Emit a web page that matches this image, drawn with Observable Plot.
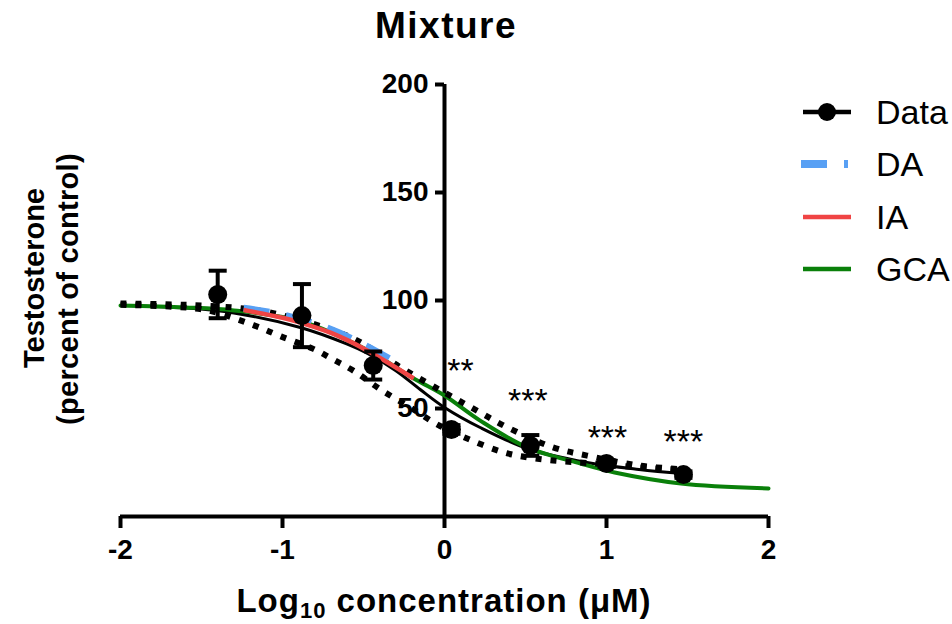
<!DOCTYPE html>
<html>
<head>
<meta charset="utf-8">
<script src="https://cdn.jsdelivr.net/npm/d3@7"></script>
<script src="https://cdn.jsdelivr.net/npm/@observablehq/plot@0.6"></script>
<style>
  html, body { margin: 0; padding: 0; background: #fff; }
  #chart svg { display: block; }
</style>
</head>
<body>
<div id="chart"></div>
<script>
// ---- Axis ticks ----
const xTicks = [-2, -1, 0, 1, 2];
const yTicks = [50, 100, 150, 200];

// ---- Observed data (mean ± error) ----
const dataX = [-1.4, -0.88, -0.44, 0.043, 0.53, 1.0, 1.475];
const dataY = [102.8, 93, 69.9, 40.3, 32.9, 24.5, 19.4];
const dataErr = [11, 14.6, 6.5, 2, 4.8, 1.5, 1.5];

// ---- Fitted curve of the data (black solid) ----
const fitX = [-2, -1.6, -1.3, -0.89, -0.6, -0.475, -0.3, -0.15, 0, 0.22, 0.51, 0.88, 1.2, 1.475];
const fitY = [97.7, 96.5, 94.2, 87.5, 79.8, 75.5, 67.5, 58.8, 50.5, 41.2, 31.5, 25, 21.8, 19.9];

// ---- Confidence band, upper (dotted) ----
const upperX = [-2, -1.6, -1.24, -1.05, -0.72, -0.54, -0.27, 0, 0.2, 0.39, 0.67, 0.88, 1.2, 1.48];
const upperY = [98.6, 98, 96.3, 94, 87, 81.5, 69, 57.4, 49, 41.2, 32, 28.2, 23.6, 21.8];

// ---- Confidence band, lower (dotted) ----
const lowerX = [-2, -1.7, -1.46, -1.18, -1.01, -0.81, -0.685, -0.56, -0.395, -0.2, -0.04, 0.14, 0.36, 0.51, 0.67, 0.88, 1.21, 1.48];
const lowerY = [98, 97.2, 95.4, 88.6, 83.4, 77.6, 72.6, 67.4, 58.8, 50, 42.4, 36.1, 29.8, 27.4, 25.9, 24.8, 22.7, 21.5];

// ---- Model predictions ----
const gcaX = [-2, -1.6, -1.3, -0.89, -0.475, -0.19, 0, 0.22, 0.51, 0.84, 1.05, 1.46, 2];
const gcaY = [97.7, 96.8, 95.4, 90.5, 77, 63.9, 56, 44.4, 32, 24.5, 20.4, 15.3, 13];

const iaX = [-1.24, -1.0, -0.89, -0.7, -0.5, -0.19];
const iaY = [95.6, 92, 89.8, 85, 77.8, 63.9];

const daX = [-1.24, -1.0, -0.7, -0.5, -0.33];
const daY = [96.4, 93.4, 86.6, 79.6, 72.6];

// ---- Significance annotations ----
const starX = [0.099, 0.515, 1.006, 1.475];
const starY = [67.5, 53.2, 36.1, 34.3];
const starText = ["**", "***", "***", "***"];

// ---- Legend ----
const legendLabels = ["Data", "DA", "IA", "GCA"];

// ---- Build tables ----
const rows = (xs, ys) => xs.map((x, i) => ({x, y: ys[i]}));
const dataRows = dataX.map((x, i) => ({x, y: dataY[i], lo: dataY[i] - dataErr[i], hi: dataY[i] + dataErr[i]}));
const capRows = dataRows.flatMap(d => [{x: d.x, y: d.lo}, {x: d.x, y: d.hi}]);
const starRows = starX.map((x, i) => ({x, y: starY[i], t: starText[i]}));

const capSymbol = {
  draw(ctx, size) {
    const w = Math.sqrt(size / Math.PI);
    ctx.moveTo(-w, 0);
    ctx.lineTo(w, 0);
  }
};

const FONT = "'Liberation Sans', Arial, Helvetica, sans-serif";
const dotted = {stroke: "black", strokeWidth: 6, strokeDasharray: "6,9", strokeLinecap: "butt", curve: "catmull-rom"};

const plot = Plot.plot({
  width: 952,
  height: 624,
  marginLeft: 120,
  marginRight: 184,
  marginTop: 84,
  marginBottom: 108,
  style: {fontFamily: FONT, background: "#fff", overflow: "visible"},
  x: {domain: [-2, 2]},
  y: {domain: [0, 200]},
  marks: [
    Plot.ruleY([0], {x1: -2, x2: 2, stroke: "black", strokeWidth: 4}),
    Plot.ruleX([0], {y1: 0, y2: 200, stroke: "black", strokeWidth: 4}),
    Plot.axisX({ticks: xTicks, tickFormat: d => String(d), tickSize: 12, tickPadding: 11,
      strokeWidth: 4, fontSize: 28, fontWeight: "bold", label: null}),
    Plot.axisY({x: 0, ticks: yTicks, tickFormat: d => String(d), tickSize: 9, tickPadding: 7,
      strokeWidth: 4, fontSize: 28, fontWeight: "bold", label: null}),
    Plot.line(rows(fitX, fitY), {x: "x", y: "y", stroke: "black", strokeWidth: 3, curve: "catmull-rom"}),
    Plot.line(rows(gcaX, gcaY), {x: "x", y: "y", stroke: "#0a800a", strokeWidth: 4, curve: "catmull-rom"}),
    Plot.line(rows(upperX, upperY), {x: "x", y: "y", ...dotted}),
    Plot.line(rows(lowerX, lowerY), {x: "x", y: "y", ...dotted}),
    Plot.line(rows(daX, daY), {x: "x", y: "y", stroke: "#58a0f4", strokeWidth: 7, strokeDasharray: "26,17", strokeLinecap: "butt", curve: "catmull-rom"}),
    Plot.line(rows(iaX, iaY), {x: "x", y: "y", stroke: "#f04444", strokeWidth: 4.5, strokeLinecap: "butt", curve: "catmull-rom"}),
    Plot.ruleX(dataRows, {x: "x", y1: "lo", y2: "hi", stroke: "black", strokeWidth: 4}),
    Plot.dot(capRows, {x: "x", y: "y", symbol: capSymbol, r: 9, stroke: "black", strokeWidth: 4, fill: "none"}),
    Plot.dot(dataRows, {x: "x", y: "y", r: 9.5, fill: "black", stroke: "none"}),
    Plot.text(starRows, {x: "x", y: "y", text: "t", fontSize: 34, fill: "black", lineAnchor: "middle"})
  ]
});

document.getElementById("chart").appendChild(plot);

// ---- Titles, axis labels and legend ----
const svg = d3.select(plot);

svg.append("text")
  .attr("x", 446).attr("y", 38)
  .attr("text-anchor", "middle")
  .attr("font-family", FONT).attr("font-weight", "bold")
  .attr("font-size", 37).attr("letter-spacing", 1.5)
  .attr("fill", "black")
  .text("Mixture");

const xl = svg.append("text")
  .attr("x", 444).attr("y", 612)
  .attr("text-anchor", "middle")
  .attr("font-family", FONT).attr("font-weight", "bold")
  .attr("font-size", 33).attr("letter-spacing", 1)
  .attr("fill", "black");
xl.append("tspan").text("Log");
xl.append("tspan").attr("font-size", 22).attr("dy", 6).text("10");
xl.append("tspan").attr("dy", -6).text(" concentration (\u03bcM)");

svg.append("text")
  .attr("transform", "translate(44,278) rotate(-90)")
  .attr("text-anchor", "middle")
  .attr("font-family", FONT).attr("font-weight", "bold")
  .attr("font-size", 29)
  .attr("fill", "black")
  .text("Testosterone");

svg.append("text")
  .attr("transform", "translate(78,289) rotate(-90)")
  .attr("text-anchor", "middle")
  .attr("font-family", FONT).attr("font-weight", "bold")
  .attr("font-size", 29).attr("letter-spacing", 0.3)
  .attr("fill", "black")
  .text("(percent of control)");

const legY = [112, 164, 217, 269];
const lg = svg.append("g").attr("text-anchor", "start");
// Data
lg.append("line").attr("x1", 803).attr("x2", 851).attr("y1", legY[0]).attr("y2", legY[0])
  .attr("stroke", "black").attr("stroke-width", 4.5);
lg.append("circle").attr("cx", 827).attr("cy", legY[0]).attr("r", 9).attr("fill", "black");
// DA
lg.append("line").attr("x1", 801).attr("x2", 848).attr("y1", legY[1]).attr("y2", legY[1])
  .attr("stroke", "#58a0f4").attr("stroke-width", 8).attr("stroke-dasharray", "26,17");
// IA
lg.append("line").attr("x1", 803).attr("x2", 851).attr("y1", legY[2]).attr("y2", legY[2])
  .attr("stroke", "#f04444").attr("stroke-width", 4.5);
// GCA
lg.append("line").attr("x1", 803).attr("x2", 851).attr("y1", legY[3]).attr("y2", legY[3])
  .attr("stroke", "#0a800a").attr("stroke-width", 4.5);

legendLabels.forEach((t, i) => {
  lg.append("text")
    .attr("x", 876).attr("y", legY[i] + 12)
    .attr("text-anchor", "start")
    .attr("font-family", FONT).attr("font-size", 34)
    .attr("fill", "black")
    .text(t);
});
</script>
</body>
</html>
